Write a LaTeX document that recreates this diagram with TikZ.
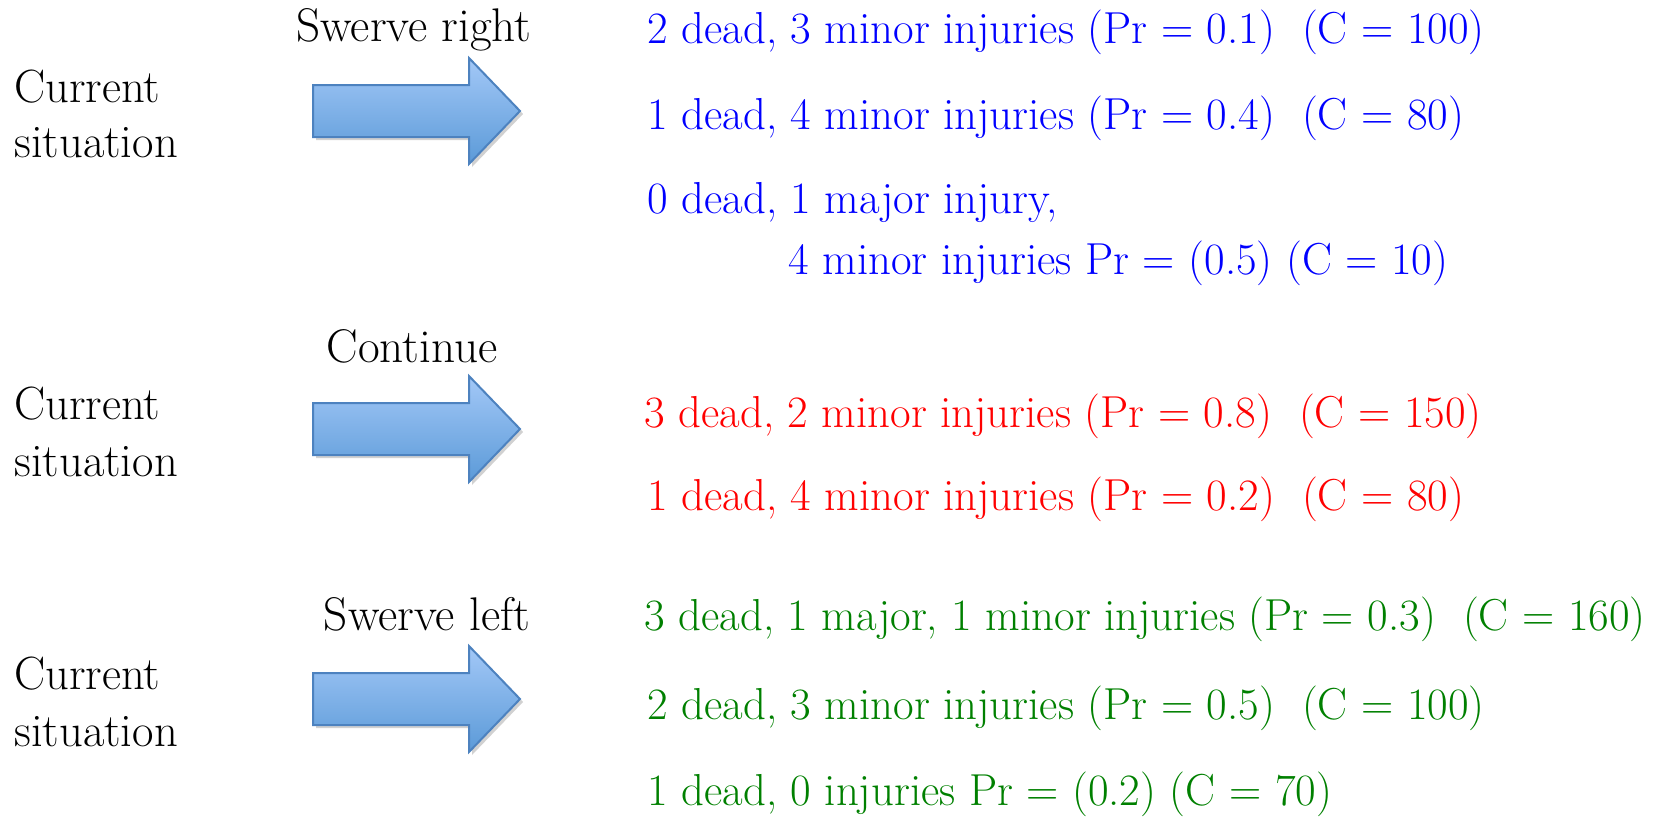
\documentclass[tikz,border=0pt]{standalone}
\definecolor{arrtop}{HTML}{A3C8F7}
\definecolor{arrbot}{HTML}{5B9AD8}
\definecolor{arredge}{HTML}{4D82BF}
\definecolor{outblue}{RGB}{0,0,255}
\definecolor{outred}{RGB}{255,0,0}
\definecolor{outgreen}{RGB}{0,128,0}
\newcommand\bigarr[1]{%
  \fill[black,opacity=0.18] (316,#1-23) -- (472,#1-23) -- (472,#1-50) -- (523,#1+3) -- (472,#1+56) -- (472,#1+29) -- (316,#1+29) -- cycle;
  \path[arrowbody] (313,#1-26) -- (469,#1-26) -- (469,#1-53) -- (520,#1) -- (469,#1+53) -- (469,#1+26) -- (313,#1+26) -- cycle;
}
\begin{document}
\begin{tikzpicture}[x=0.5pt,y=-0.5pt,
  sit/.style={anchor=base west, font=\fontsize{23.3}{28}\selectfont, inner sep=0pt},
  act/.style={anchor=base, font=\fontsize{23.6}{28}\selectfont, inner sep=0pt},
  outc/.style={anchor=base west, font=\fontsize{22.4}{27}\selectfont, inner sep=0pt},
  arrowbody/.style={top color=arrtop, bottom color=arrbot, draw=arredge, line width=1pt, line join=miter}]
\useasboundingbox (0,0) rectangle (1662,816);
% arrows
\bigarr{111}
\bigarr{429}
\bigarr{699}
% left texts
\node[sit] (c1a) at (14,102) {Current};
\node[sit] (c1b) at (14,157) {situation};
\node[sit] (c2a) at (14,419) {Current};
\node[sit] (c2b) at (14,476) {situation};
\node[sit] (c3a) at (14,689) {Current};
\node[sit] (c3b) at (14,746) {situation};
% action labels
\node[act] (a1) at (414,41) {Swerve right};
\node[act] (a2) at (412,362) {Continue};
\node[act] (a3) at (427,630) {Swerve left};
% outcomes
\node[outc, text=outblue] (b1) at (647,43) {2 dead, 3 minor injuries (Pr = 0.1)~~(C = 100)};
\node[outc, text=outblue] (b2) at (647,129) {1 dead, 4 minor injuries (Pr = 0.4)~~(C = 80)};
\node[outc, text=outblue] (b3) at (647,213) {0 dead, 1 major injury,};
\node[outc, text=outblue] (b4) at (788,274) {4 minor injuries Pr = (0.5) (C = 10)};
\node[outc, text=outred] (r1) at (644,427) {3 dead, 2 minor injuries (Pr = 0.8)~~(C = 150)};
\node[outc, text=outred] (r2) at (647,510) {1 dead, 4 minor injuries (Pr = 0.2)~~(C = 80)};
\node[outc, text=outgreen] (g1) at (644,630) {3 dead, 1 major, 1 minor injuries (Pr = 0.3)~~(C = 160)};
\node[outc, text=outgreen] (g2) at (647,719) {2 dead, 3 minor injuries (Pr = 0.5)~~(C = 100)};
\node[outc, text=outgreen] (g3) at (647,805) {1 dead, 0 injuries Pr = (0.2) (C = 70)};
\end{tikzpicture}
\end{document}
